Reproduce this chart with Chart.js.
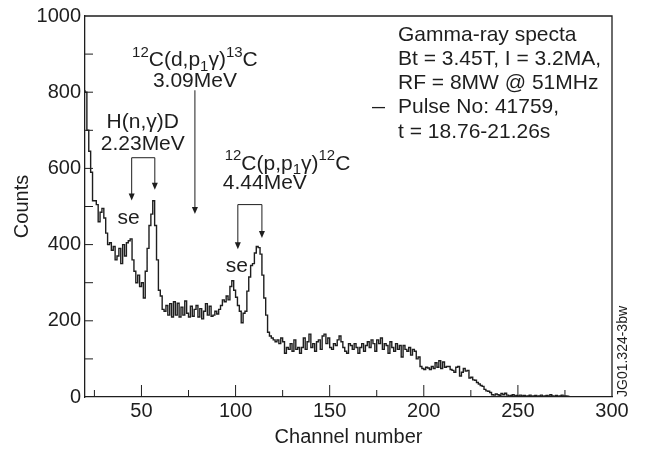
<!DOCTYPE html>
<html>
<head>
<meta charset="utf-8">
<script src="https://cdn.jsdelivr.net/npm/chart.js@4.4.0/dist/chart.umd.min.js"></script>
<style>
    html, body { margin: 0; padding: 0; background: #fff; }
    #wrap { width: 645px; height: 450px; }
</style>
</head>
<body>
<div id="wrap"><canvas id="chart" width="645" height="450"></canvas></div>
<script>
// channel of the first bin, bins are 1 channel wide
var firstChannel = 20;
var lastChannel = 300;

var counts = [
    805, 800, 700, 645, 590, 515, 515, 505, 460, 485,
    495, 470, 430, 400, 405, 385, 395, 360, 370, 390,
    350, 400, 370, 405, 410, 415, 360, 330, 300, 320,
    290, 300, 260, 330, 390, 450, 480, 515, 450, 360,
    280, 265, 230, 225, 240, 215, 245, 210, 250, 215,
    246, 210, 236, 215, 252, 220, 210, 238, 212, 230,
    240, 210, 232, 205, 225, 245, 215, 238, 212, 215,
    225, 218, 230, 240, 255, 250, 265, 255, 290, 305,
    280, 262, 240, 225, 195, 220, 225, 278, 315, 345,
    350, 378, 395, 392, 375, 320, 260, 215, 170, 160,
    155, 150, 145, 150, 140, 155, 145, 115, 130, 125,
    140, 120, 150, 125, 130, 115, 130, 155, 125, 145,
    165, 130, 140, 120, 145, 150, 125, 160, 165, 140,
    155, 130, 125, 140, 135, 150, 160, 145, 130, 120,
    115, 140, 135, 125, 140, 130, 115, 130, 140, 120,
    135, 145, 130, 150, 140, 120, 150, 140, 155, 125,
    140, 135, 115, 145, 130, 120, 140, 125, 135, 105,
    135, 125, 120, 130, 110, 125, 120, 100, 105, 80,
    75, 72, 78, 76, 72, 80, 75, 90, 78, 95,
    75, 92, 78, 80, 80, 72, 70, 65, 78, 80,
    55, 65, 75, 68, 70, 50, 52, 45, 44, 38,
    34, 30, 28, 20, 16, 15, 12, 6, 5, 8,
    6, 4, 9, 6, 10, 5, 3, 4, 6, 3,
    4, 2, 5, 3, 4, 2, 3, 5, 2, 3,
    4, 2, 3, 5, 2, 3, 4, 2, 6, 3,
    2, 4, 2, 3, 5, 2, 3, 2, 1, 0,
    0, 0, 0, 0, 0, 0, 0, 0, 0, 0,
    0, 0, 0, 0, 0, 0, 0, 0, 0, 0
];

var xTicks = [50, 100, 150, 200, 250, 300];
var xMinorTicks = [25, 75, 125, 175, 225, 275];
var yTicks = [0, 200, 400, 600, 800, 1000];
var yMinorTicks = [100, 300, 500, 700, 900];

var legendLines = [
    'Gamma-ray specta',
    'Bt = 3.45T, I = 3.2MA,',
    'RF = 8MW @ 51MHz',
    'Pulse No: 41759,',
    't = 18.76-21.26s'
];

// rich labels: [text, 'sup' | 'sub' | '']
var labelHn = [['H(n,', ''], ['\u03b3', ''], [')D', '']];
var labelDp = [['12', 'sup'], ['C(d,p', ''], ['1', 'sub'], ['\u03b3)', ''], ['13', 'sup'], ['C', '']];
var labelPp = [['12', 'sup'], ['C(p,p', ''], ['1', 'sub'], ['\u03b3)', ''], ['12', 'sup'], ['C', '']];

var FONT = '"Liberation Sans", Arial, Helvetica, sans-serif';
var TEXT_FONT = '21px ' + FONT;
var SMALL_FONT = '15px ' + FONT;
var INK = '#1e1e1e';

var points = counts.map(function(v, i){
    return { x: firstChannel + i, y: v };
});
points.push({ x: lastChannel, y: counts[counts.length - 1] });

function drawRich(ctx, parts, x, y, align){
    var total = 0;
    parts.forEach(function(p){
        ctx.font = p[1] ? SMALL_FONT : TEXT_FONT;
        total += ctx.measureText(p[0]).width;
    });
    var cx = align === 'center' ? x - total / 2 : x;
    ctx.textAlign = 'left';
    ctx.textBaseline = 'middle';
    parts.forEach(function(p){
        ctx.font = p[1] ? SMALL_FONT : TEXT_FONT;
        var dy = p[1] === 'sup' ? -8 : (p[1] === 'sub' ? 6 : 0);
        ctx.fillText(p[0], cx, y + dy);
        cx += ctx.measureText(p[0]).width;
    });
}

function plainText(ctx, t, x, y, align){
    ctx.font = TEXT_FONT;
    ctx.textAlign = align;
    ctx.textBaseline = 'middle';
    ctx.fillText(t, x, y);
}

function arrowHead(ctx, x, y){
    ctx.beginPath();
    ctx.moveTo(x, y);
    ctx.lineTo(x - 3, y - 7);
    ctx.lineTo(x + 3, y - 7);
    ctx.closePath();
    ctx.fill();
}

function bracket(ctx, xl, xr, top, tipL, tipR){
    ctx.beginPath();
    ctx.moveTo(xl, tipL - 6);
    ctx.lineTo(xl, top);
    ctx.lineTo(xr, top);
    ctx.lineTo(xr, tipR - 6);
    ctx.stroke();
    arrowHead(ctx, xl, tipL);
    arrowHead(ctx, xr, tipR);
}

var framePlugin = {
    id: 'frame',
    afterDraw: function(chart){
        var ctx = chart.ctx;
        var a = chart.chartArea;
        var xs = chart.scales.x, ys = chart.scales.y;
        var X = function(v){ return xs.getPixelForValue(v); };
        var Y = function(v){ return ys.getPixelForValue(v); };

        ctx.save();
        ctx.strokeStyle = INK;
        ctx.fillStyle = INK;

        // top and right border
        ctx.lineWidth = 1.3;
        ctx.beginPath();
        ctx.moveTo(a.left, a.top);
        ctx.lineTo(a.right, a.top);
        ctx.lineTo(a.right, a.bottom);
        ctx.stroke();

        // inward ticks
        ctx.lineWidth = 1;
        ctx.beginPath();
        xTicks.forEach(function(v){
            if( v >= lastChannel ) return;
            ctx.moveTo(X(v), a.bottom); ctx.lineTo(X(v), a.bottom - 12);
        });
        xMinorTicks.forEach(function(v){
            ctx.moveTo(X(v), a.bottom); ctx.lineTo(X(v), a.bottom - 7);
        });
        yTicks.concat(yMinorTicks).forEach(function(v){
            if( v <= 0 || v >= 1000 ) return;
            ctx.moveTo(a.left, Y(v)); ctx.lineTo(a.left + 8, Y(v));
        });
        ctx.stroke();

        // 2.23 MeV peak
        drawRich(ctx, labelHn, X(50.7), Y(721), 'center');
        plainText(ctx, '2.23MeV', X(50.7), Y(664), 'center');
        bracket(ctx, X(44.8), X(57.1), Y(628), Y(516), Y(544));
        plainText(ctx, 'se', X(43.2), Y(469), 'center');

        // 3.09 MeV
        drawRich(ctx, labelDp, X(78.4), Y(883), 'center');
        plainText(ctx, '3.09MeV', X(78.4), Y(829), 'center');
        ctx.beginPath();
        ctx.moveTo(X(78.4), Y(805));
        ctx.lineTo(X(78.4), Y(480) - 6);
        ctx.stroke();
        arrowHead(ctx, X(78.4), Y(480));

        // 4.44 MeV peak
        drawRich(ctx, labelPp, X(94.2), Y(612), 'left');
        plainText(ctx, '4.44MeV', X(93.2), Y(560), 'left');
        bracket(ctx, X(101.2), X(114), Y(505), Y(388), Y(417));
        plainText(ctx, 'se', X(100.7), Y(344), 'center');

        // legend block
        legendLines.forEach(function(t, i){
            plainText(ctx, t, 398, 35 + i * 24.2, 'left');
        });
        ctx.lineWidth = 1.3;
        ctx.beginPath();
        ctx.moveTo(372, 35 + 3 * 24.2);
        ctx.lineTo(385, 35 + 3 * 24.2);
        ctx.stroke();

        // figure id
        ctx.translate(623, a.bottom);
        ctx.rotate(-Math.PI / 2);
        ctx.font = '14px ' + FONT;
        ctx.textAlign = 'left';
        ctx.textBaseline = 'middle';
        ctx.fillText('JG01.324-3bw', 0, 0);
        ctx.restore();
    }
};

new Chart(document.getElementById('chart'), {
    type: 'line',
    data: {
        datasets: [{
            data: points,
            stepped: 'after',
            borderColor: INK,
            borderWidth: 1.4,
            pointRadius: 0,
            fill: false
        }]
    },
    options: {
        responsive: false,
        animation: false,
        devicePixelRatio: 1,
        layout: { padding: { left: 0, right: 33, top: 13, bottom: 0 } },
        plugins: {
            legend: { display: false },
            tooltip: { enabled: false }
        },
        scales: {
            x: {
                type: 'linear',
                min: firstChannel,
                max: lastChannel,
                afterBuildTicks: function(s){
                    s.ticks = xTicks.map(function(v){ return { value: v }; });
                },
                afterFit: function(s){ s.height = 53; },
                ticks: {
                    font: { family: FONT, size: 20 }, color: INK, padding: 2, maxRotation: 0, autoSkip: false,
                    callback: function(v){ return String(v); }
                },
                grid: { drawOnChartArea: false, drawTicks: false },
                border: { display: true, color: INK, width: 1.3 },
                title: { display: true, text: 'Channel number', color: INK, font: { family: FONT, size: 20 }, padding: { top: 0, bottom: 1 } }
            },
            y: {
                min: 0,
                max: 1000,
                afterBuildTicks: function(s){
                    s.ticks = yTicks.map(function(v){ return { value: v }; });
                },
                afterFit: function(s){ s.width = 85; },
                ticks: {
                    font: { family: FONT, size: 20 }, color: INK, padding: 4,
                    callback: function(v){ return String(v); }
                },
                grid: { drawOnChartArea: false, drawTicks: false },
                border: { display: true, color: INK, width: 1.3 },
                title: { display: true, text: 'Counts', color: INK, font: { family: FONT, size: 20 }, padding: { top: 10, bottom: 0 } }
            }
        }
    },
    plugins: [framePlugin]
});
</script>
</body>
</html>
